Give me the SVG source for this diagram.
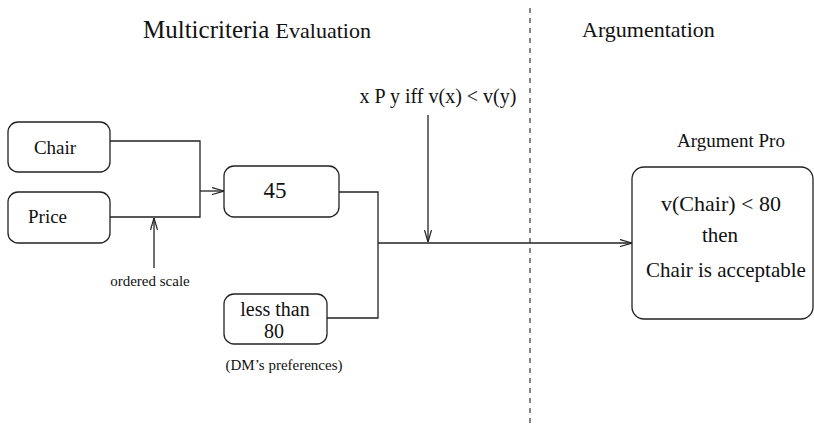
<svg xmlns="http://www.w3.org/2000/svg" width="814" height="426" viewBox="0 0 814 426">
<style>
text{font-family:"Liberation Serif","Times New Roman",serif;fill:#111}
.box{fill:#fff;stroke:#222;stroke-width:1.3}
.ln{fill:none;stroke:#222;stroke-width:1.3}
.arr{fill:none;stroke:#222;stroke-width:1.3;marker-end:url(#ah)}
</style>
<defs>
<marker id="ah" viewBox="0 0 12 8" refX="12" refY="4" markerWidth="12" markerHeight="8" markerUnits="userSpaceOnUse" orient="auto">
<path d="M0,0.5 L12,4 L0,7.5" fill="none" stroke="#222" stroke-width="1.2"/>
</marker>
</defs>
<rect width="814" height="426" fill="#fff"/>
<g id="titles">
<text x="143" y="38" font-size="25">Multicriteria <tspan font-size="22">Evaluation</tspan></text>
<text x="582" y="37" font-size="22">Argumentation</text>
</g>
<g id="divider">
<line x1="530" y1="8" x2="530" y2="426" stroke="#333" stroke-width="1.2" stroke-dasharray="5,5"/>
</g>
<g id="connectors">
<polyline class="ln" points="110,141 200,141 200,217 110,217"/>
<line class="arr" x1="200" y1="191" x2="224" y2="191"/>
<line class="arr" x1="154" y1="268" x2="154" y2="218"/>
<polyline class="ln" points="339,192 378,192 378,318 327,318"/>
<line class="arr" x1="378" y1="243" x2="632" y2="243"/>
<line class="arr" x1="428" y1="115" x2="428" y2="242"/>
</g>
<g id="chair">
<rect class="box" x="8" y="122" width="102" height="50" rx="10"/>
<text x="55" y="154" font-size="19" text-anchor="middle">Chair</text>
</g>
<g id="price">
<rect class="box" x="8" y="192" width="102" height="51" rx="10"/>
<text x="28" y="223" font-size="19">Price</text>
</g>
<g id="ordered-scale">
<text x="150" y="286" font-size="15" text-anchor="middle">ordered scale</text>
</g>
<g id="value45">
<rect class="box" x="224" y="166" width="115" height="51" rx="10"/>
<text x="275" y="198" font-size="23" text-anchor="middle">45</text>
</g>
<g id="less-than">
<rect class="box" x="224" y="294" width="103" height="50" rx="10"/>
<text x="275" y="316" font-size="20" text-anchor="middle">less than</text>
<text x="274" y="338" font-size="20" text-anchor="middle">80</text>
<text x="284" y="370" font-size="15" text-anchor="middle">(DM’s preferences)</text>
</g>
<g id="relation">
<text x="438" y="103" font-size="20" text-anchor="middle">x P y iff v(x) &lt; v(y)</text>
</g>
<g id="argument-pro">
<text x="731" y="147" font-size="19" text-anchor="middle">Argument Pro</text>
<rect class="box" x="632" y="167" width="181" height="152" rx="12"/>
<text x="721" y="211" font-size="22" text-anchor="middle">v(Chair) &lt; 80</text>
<text x="720" y="242" font-size="21" text-anchor="middle">then</text>
<text x="726" y="277" font-size="21" text-anchor="middle">Chair is acceptable</text>
</g>
</svg>
